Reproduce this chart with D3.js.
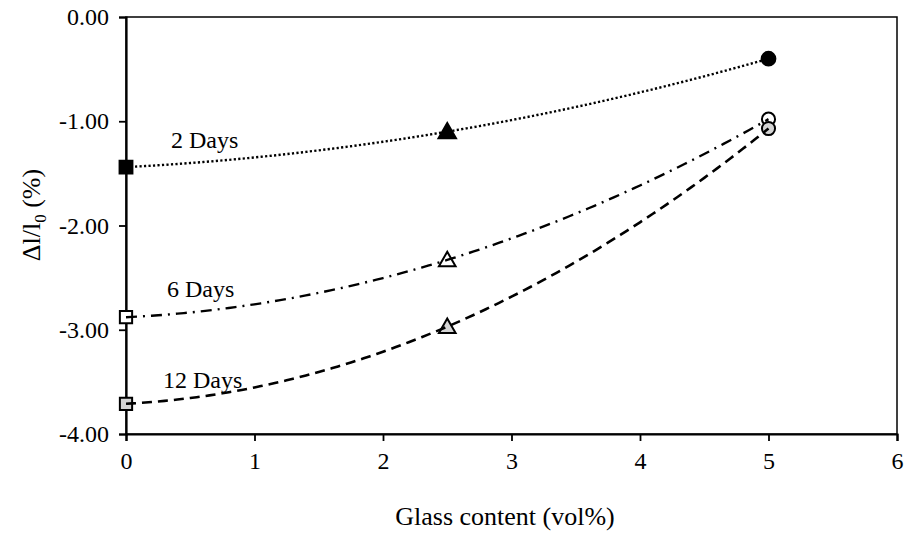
<!DOCTYPE html>
<html>
<head>
<meta charset="utf-8">
<script src="https://cdn.jsdelivr.net/npm/d3@7"></script>
<style>
  body { margin: 0; background: #fff; }
  svg { display: block; }
  text { font-family: "Liberation Serif", "Times New Roman", serif; fill: #000; }
</style>
</head>
<body>
<svg id="chart" width="906" height="533"></svg>
<script>
// ---- data ----
const glassContent = [0, 2.5, 5];
const days2 = [-1.44, -1.10, -0.40];
const days6 = [-2.88, -2.33, -0.98];
const days12 = [-3.71, -2.97, -1.07];
const seriesNames = ["2 Days", "6 Days", "12 Days"];
const xTicks = [0, 1, 2, 3, 4, 5, 6];
const yTicks = [0, -1, -2, -3, -4];

const svg = d3.select("#chart");
const m = { left: 126, top: 17, right: 897, bottom: 434 };
const x = d3.scaleLinear().domain([0, 6]).range([m.left, m.right]);
const y = d3.scaleLinear().domain([-4, 0]).range([m.bottom, m.top]);
const fmtY = d => d3.format(".2f")(d).replace("\u2212", "-");

// frame
svg.append("rect").attr("x", m.left).attr("y", m.top)
  .attr("width", m.right - m.left).attr("height", m.bottom - m.top)
  .attr("fill", "none").attr("stroke", "#000").attr("stroke-width", 1.5);

// y axis
const yAxis = svg.append("g").attr("transform", `translate(${m.left},0)`);
yAxis.call(d3.axisLeft(y).tickValues(d3.range(-4, 0.001, 0.2)).tickSize(4).tickFormat(""))
  .call(g => g.select(".domain").remove())
  .call(g => g.selectAll("line").attr("stroke-width", 1.5));
yAxis.call(d3.axisLeft(y).tickValues(yTicks).tickSize(7).tickPadding(10).tickFormat(fmtY))
  .call(g => g.select(".domain").attr("stroke-width", 2.2))
  .call(g => g.selectAll("line").attr("stroke-width", 1.8))
  .call(g => g.selectAll("text").attr("font-size", 24).attr("font-family", "Liberation Serif"));

// x axis
const xAxis = svg.append("g").attr("transform", `translate(0,${m.bottom})`);
xAxis.call(d3.axisBottom(x).tickValues(d3.range(0.5, 6, 1)).tickSize(5).tickFormat(""))
  .call(g => g.select(".domain").remove())
  .call(g => g.selectAll("line").attr("stroke-width", 1.5));
xAxis.call(d3.axisBottom(x).tickValues(xTicks).tickSize(7).tickPadding(11).tickFormat(d3.format("d")))
  .call(g => g.select(".domain").attr("stroke-width", 2.2))
  .call(g => g.selectAll("line").attr("stroke-width", 1.8))
  .call(g => g.selectAll("text").attr("font-size", 24).attr("font-family", "Liberation Serif"));

// axis titles
svg.append("text").attr("x", 505).attr("y", 525).attr("text-anchor", "middle")
  .attr("font-size", 26).text("Glass content (vol%)");
const yt = svg.append("text").attr("transform", "translate(40,215) rotate(-90)")
  .attr("text-anchor", "middle").attr("font-size", 26);
yt.append("tspan").text("\u0394l/l");
yt.append("tspan").attr("font-size", 17).attr("dy", 6).text("0");
yt.append("tspan").attr("dy", -6).text(" (%)");

// quadratic fit through the data (Excel polynomial trendline, order 2)
function quadFit(xs, ys) {
  const [x0, x1, x2] = xs, [y0, y1, y2] = ys;
  return t => y0 * (t - x1) * (t - x2) / ((x0 - x1) * (x0 - x2))
            + y1 * (t - x0) * (t - x2) / ((x1 - x0) * (x1 - x2))
            + y2 * (t - x0) * (t - x1) / ((x2 - x0) * (x2 - x1));
}

const series = [
  { name: seriesNames[0], vals: days2, fill: "#000", dash: "2.2,2.3", cap: "butt", lw: 2.4, label: [171, 148] },
  { name: seriesNames[1], vals: days6, fill: "#fff", dash: "11,6,2,6", cap: "butt", lw: 2.4, label: [167, 297] },
  { name: seriesNames[2], vals: days12, fill: "#d4d4d4", dash: "10,6", cap: "butt", lw: 2.6, label: [163, 388] }
];

const shapes = [d3.symbolSquare, d3.symbolTriangle, d3.symbolCircle];
const sizes = [150, 120, 135];

series.forEach(s => {
  const g = svg.append("g");
  glassContent.forEach((gx, i) => {
    const sz = s.fill === "#000" ? sizes[i] * 1.1 : sizes[i];
    g.append("path")
      .attr("d", d3.symbol().type(shapes[i]).size(sz)())
      .attr("transform", `translate(${x(gx)},${y(s.vals[i]) + (i === 1 ? 1.5 : 0)})`)
      .attr("fill", s.fill).attr("stroke", "#000").attr("stroke-width", 2);
  });
  const f = quadFit(glassContent, s.vals);
  const ts = d3.range(0, 5.0001, 0.05);
  g.append("path")
    .attr("d", d3.line().x(t => x(t)).y(t => y(f(t)))(ts))
    .attr("fill", "none").attr("stroke", "#000").attr("stroke-width", s.lw)
    .attr("stroke-dasharray", s.dash).attr("stroke-linecap", s.cap);
  g.append("text").attr("x", s.label[0]).attr("y", s.label[1]).attr("font-size", 24).text(s.name);
});
</script>
</body>
</html>
